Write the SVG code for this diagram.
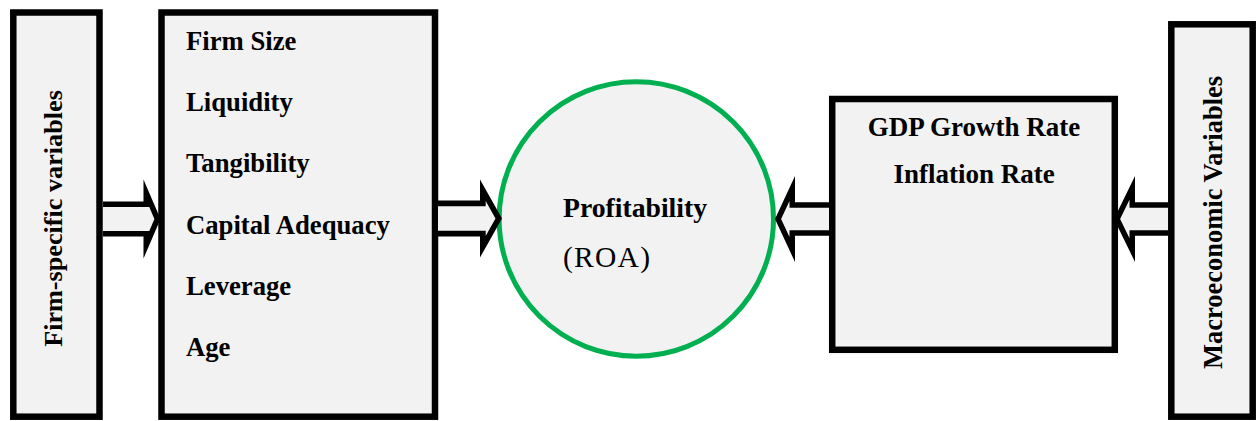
<svg xmlns="http://www.w3.org/2000/svg" width="1257" height="421" viewBox="0 0 1257 421">
  <style>
    .box { fill: #f2f2f2; stroke: #000; stroke-width: 6.5; }
    .hub { fill: #f2f2f2; stroke: #00b050; stroke-width: 5; }
    .lbl { font-family: "Liberation Serif", "Times New Roman", serif; font-weight: bold; font-size: 26.7px; fill: #000; }
    .reg { font-family: "Liberation Serif", "Times New Roman", serif; font-size: 29.5px; fill: #000; }
    .mid { text-anchor: middle; }
    .arrow-outline { fill: #000; }
    .arrow-core { fill: #f2f2f2; }
  </style>

  <!-- Firm-specific variables -->
  <g id="firm-specific">
    <rect class="box" x="13.3" y="12.5" width="86.2" height="404.2"/>
    <text class="lbl mid" transform="translate(62,218.5) rotate(-90)" style="font-size:26.2px">Firm-specific variables</text>
  </g>

  <!-- List of firm-level determinants -->
  <g id="firm-factors">
    <rect class="box" x="161.5" y="12.5" width="273.5" height="404.2"/>
    <text class="lbl" x="186" y="50">Firm Size</text>
    <text class="lbl" x="186" y="111">Liquidity</text>
    <text class="lbl" x="186" y="172">Tangibility</text>
    <text class="lbl" x="186" y="234">Capital Adequacy</text>
    <text class="lbl" x="186" y="295">Leverage</text>
    <text class="lbl" x="186" y="356">Age</text>
  </g>

  <!-- Dependent variable -->
  <g id="profitability">
    <circle class="hub" cx="636.3" cy="219" r="137.2"/>
    <text class="lbl" x="563" y="217" style="font-size:27.7px">Profitability</text>
    <text class="reg" x="563" y="267" textLength="87" lengthAdjust="spacing">(ROA)</text>
  </g>

  <!-- Macroeconomic determinants -->
  <g id="macro-factors">
    <rect class="box" x="832.2" y="99" width="282.6" height="250.8"/>
    <text class="lbl mid" x="974" y="136" style="font-size:27px">GDP Growth Rate</text>
    <text class="lbl mid" x="974" y="183" style="font-size:27px">Inflation Rate</text>
  </g>

  <!-- Macroeconomic variables -->
  <g id="macroeconomic">
    <rect class="box" x="1171.3" y="24.3" width="81.4" height="392.4"/>
    <text class="lbl mid" transform="translate(1222,222.5) rotate(-90)" style="font-size:26.5px">Macroeconomic Variables</text>
  </g>

  <!-- Hollow block arrows: black outline shape with a light core -->
  <g id="connectors">
    <g id="arrow-firm-specific">
      <polygon class="arrow-outline" points="103,201.5 143.5,201.5 143.5,179.5 160.5,219 143.5,258.5 143.5,236.5 103,236.5"/>
      <polygon class="arrow-core" points="103,207.1 149.3,207.1 154.4,219 149.3,230.9 103,230.9"/>
    </g>
    <g id="arrow-firm-factors">
      <polygon class="arrow-outline" points="438,200.5 480,200.5 480,179.5 502,218.5 480,257.5 480,236.5 438,236.5"/>
      <polygon class="arrow-core" points="438,206.2 485.7,206.2 485.7,201.1 495.5,218.5 485.7,235.9 485.7,230.8 438,230.8"/>
    </g>
    <g id="arrow-macro-factors">
      <polygon class="arrow-outline" points="829,202.3 795,202.3 795,176 775,219 795,262 795,235.7 829,235.7"/>
      <polygon class="arrow-core" points="829,207.8 789.5,207.8 789.5,201 781.1,219 789.5,237 789.5,230.2 829,230.2"/>
    </g>
    <g id="arrow-macroeconomic">
      <polygon class="arrow-outline" points="1168,202.3 1135,202.3 1135,176 1114,219 1135,262 1135,235.7 1168,235.7"/>
      <polygon class="arrow-core" points="1168,207.8 1129.5,207.8 1129.5,199.8 1120.1,219 1129.5,238.2 1129.5,230.2 1168,230.2"/>
    </g>
  </g>
</svg>
